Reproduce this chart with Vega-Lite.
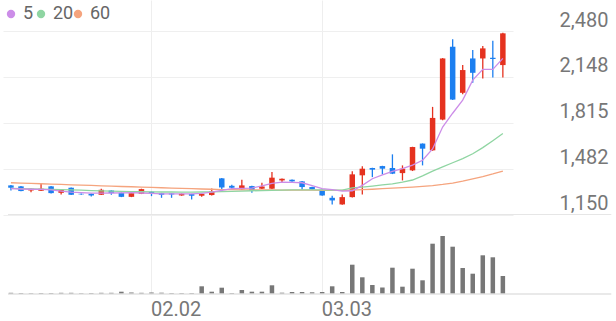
{
  "$schema": "https://vega.github.io/schema/vega-lite/v6.json",
  "width": 510,
  "height": 294,
  "autosize": {"type": "none"},
  "padding": {"left": 3, "top": 0, "right": 103, "bottom": 27},
  "background": "white",
  "config": {
    "view": {"stroke": null},
    "font": "Roboto",
    "legend": {
      "orient": "none", "legendY": 5, "direction": "horizontal",
      "title": null, "padding": 0, "symbolType": "circle", "symbolSize": 70,
      "symbolStrokeWidth": 0, "labelFontSize": 18, "labelColor": "#666666", "labelFont": "Roboto",
      "labelOffset": 3
    }
  },
  "data": {"values": [
    {"i":0,"d":"01.13","o":1361,"h":1363,"l":1324,"c":1344,"v":24000,"ma5":1337,"ma20":1340,"ma60":1380},
    {"i":1,"d":"01.14","o":1354,"h":1356,"l":1318,"c":1320,"v":20000,"ma5":1335,"ma20":1338,"ma60":1378},
    {"i":2,"d":"01.15","o":1324,"h":1338,"l":1312,"c":1337,"v":16000,"ma5":1333,"ma20":1336,"ma60":1375},
    {"i":3,"d":"01.16","o":1322,"h":1373,"l":1320,"c":1337,"v":20000,"ma5":1332,"ma20":1334,"ma60":1373},
    {"i":4,"d":"01.19","o":1354,"h":1356,"l":1303,"c":1305,"v":20000,"ma5":1328,"ma20":1332,"ma60":1370},
    {"i":5,"d":"01.20","o":1307,"h":1331,"l":1295,"c":1329,"v":24000,"ma5":1320,"ma20":1330,"ma60":1368},
    {"i":6,"d":"01.21","o":1344,"h":1346,"l":1291,"c":1293,"v":24000,"ma5":1312,"ma20":1328,"ma60":1365},
    {"i":7,"d":"01.22","o":1300,"h":1302,"l":1293,"c":1296,"v":16000,"ma5":1308,"ma20":1326,"ma60":1363},
    {"i":8,"d":"01.23","o":1300,"h":1302,"l":1281,"c":1288,"v":20000,"ma5":1305,"ma20":1323,"ma60":1361},
    {"i":9,"d":"01.26","o":1293,"h":1337,"l":1291,"c":1329,"v":24000,"ma5":1305,"ma20":1321,"ma60":1358},
    {"i":10,"d":"01.27","o":1324,"h":1326,"l":1293,"c":1305,"v":24000,"ma5":1306,"ma20":1319,"ma60":1356},
    {"i":11,"d":"01.28","o":1307,"h":1309,"l":1276,"c":1278,"v":46000,"ma5":1307,"ma20":1317,"ma60":1353},
    {"i":12,"d":"01.29","o":1278,"h":1320,"l":1276,"c":1305,"v":30000,"ma5":1308,"ma20":1316,"ma60":1351},
    {"i":13,"d":"01.30","o":1300,"h":1337,"l":1298,"c":1334,"v":24000,"ma5":1306,"ma20":1315,"ma60":1348},
    {"i":14,"d":"02.02","o":1315,"h":1317,"l":1283,"c":1305,"v":30000,"ma5":1303,"ma20":1314,"ma60":1346},
    {"i":15,"d":"02.03","o":1305,"h":1307,"l":1271,"c":1293,"v":26000,"ma5":1300,"ma20":1313,"ma60":1344},
    {"i":16,"d":"02.04","o":1303,"h":1305,"l":1271,"c":1295,"v":20000,"ma5":1300,"ma20":1313,"ma60":1341},
    {"i":17,"d":"02.05","o":1288,"h":1302,"l":1286,"c":1300,"v":20000,"ma5":1299,"ma20":1312,"ma60":1339},
    {"i":18,"d":"02.06","o":1298,"h":1300,"l":1259,"c":1286,"v":20000,"ma5":1300,"ma20":1312,"ma60":1337},
    {"i":19,"d":"02.09","o":1286,"h":1302,"l":1278,"c":1300,"v":154000,"ma5":1303,"ma20":1313,"ma60":1335},
    {"i":20,"d":"02.10","o":1291,"h":1339,"l":1288,"c":1317,"v":46000,"ma5":1312,"ma20":1314,"ma60":1333},
    {"i":21,"d":"02.11","o":1412,"h":1414,"l":1320,"c":1346,"v":126000,"ma5":1325,"ma20":1316,"ma60":1331},
    {"i":22,"d":"02.12","o":1358,"h":1366,"l":1332,"c":1344,"v":20000,"ma5":1337,"ma20":1318,"ma60":1330},
    {"i":23,"d":"02.13","o":1332,"h":1402,"l":1329,"c":1361,"v":80000,"ma5":1340,"ma20":1320,"ma60":1329},
    {"i":24,"d":"02.19","o":1356,"h":1358,"l":1307,"c":1324,"v":46000,"ma5":1341,"ma20":1322,"ma60":1329},
    {"i":25,"d":"02.20","o":1337,"h":1380,"l":1334,"c":1353,"v":46000,"ma5":1358,"ma20":1323,"ma60":1328},
    {"i":26,"d":"02.23","o":1337,"h":1458,"l":1334,"c":1417,"v":174000,"ma5":1375,"ma20":1325,"ma60":1328},
    {"i":27,"d":"02.24","o":1397,"h":1411,"l":1385,"c":1409,"v":26000,"ma5":1385,"ma20":1327,"ma60":1327},
    {"i":28,"d":"02.25","o":1402,"h":1404,"l":1388,"c":1390,"v":40000,"ma5":1383,"ma20":1328,"ma60":1327},
    {"i":29,"d":"02.26","o":1390,"h":1392,"l":1329,"c":1349,"v":40000,"ma5":1380,"ma20":1329,"ma60":1326},
    {"i":30,"d":"02.27","o":1349,"h":1351,"l":1330,"c":1332,"v":34000,"ma5":1360,"ma20":1329,"ma60":1326},
    {"i":31,"d":"03.03","o":1329,"h":1331,"l":1286,"c":1288,"v":40000,"ma5":1338,"ma20":1328,"ma60":1325},
    {"i":32,"d":"03.04","o":1271,"h":1286,"l":1223,"c":1252,"v":154000,"ma5":1330,"ma20":1327,"ma60":1325},
    {"i":33,"d":"03.05","o":1223,"h":1295,"l":1220,"c":1276,"v":40000,"ma5":1319,"ma20":1327,"ma60":1325},
    {"i":34,"d":"03.06","o":1276,"h":1463,"l":1274,"c":1441,"v":586000,"ma5":1322,"ma20":1343,"ma60":1327},
    {"i":35,"d":"03.09","o":1434,"h":1499,"l":1295,"c":1482,"v":334000,"ma5":1361,"ma20":1349,"ma60":1330},
    {"i":36,"d":"03.10","o":1487,"h":1489,"l":1421,"c":1475,"v":180000,"ma5":1409,"ma20":1356,"ma60":1333},
    {"i":37,"d":"03.11","o":1501,"h":1503,"l":1441,"c":1482,"v":130000,"ma5":1437,"ma20":1364,"ma60":1337},
    {"i":38,"d":"03.12","o":1487,"h":1586,"l":1443,"c":1446,"v":526000,"ma5":1462,"ma20":1372,"ma60":1341},
    {"i":39,"d":"03.13","o":1450,"h":1506,"l":1397,"c":1482,"v":146000,"ma5":1482,"ma20":1385,"ma60":1345},
    {"i":40,"d":"03.16","o":1470,"h":1641,"l":1465,"c":1639,"v":506000,"ma5":1508,"ma20":1400,"ma60":1349},
    {"i":41,"d":"03.17","o":1664,"h":1665,"l":1506,"c":1627,"v":274000,"ma5":1543,"ma20":1430,"ma60":1354},
    {"i":42,"d":"03.18","o":1615,"h":1930,"l":1612,"c":1850,"v":1006000,"ma5":1625,"ma20":1465,"ma60":1360},
    {"i":43,"d":"03.19","o":1838,"h":2284,"l":1833,"c":2281,"v":1160000,"ma5":1784,"ma20":1495,"ma60":1368},
    {"i":44,"d":"03.20","o":2366,"h":2420,"l":1980,"c":1983,"v":946000,"ma5":1884,"ma20":1525,"ma60":1378},
    {"i":45,"d":"03.23","o":2032,"h":2233,"l":2022,"c":2197,"v":520000,"ma5":1979,"ma20":1555,"ma60":1392},
    {"i":46,"d":"03.24","o":2281,"h":2342,"l":2105,"c":2177,"v":406000,"ma5":2124,"ma20":1590,"ma60":1408},
    {"i":47,"d":"03.25","o":2281,"h":2371,"l":2136,"c":2354,"v":774000,"ma5":2202,"ma20":1635,"ma60":1425},
    {"i":48,"d":"03.26","o":2286,"h":2410,"l":2143,"c":2277,"v":734000,"ma5":2202,"ma20":1685,"ma60":1444},
    {"i":49,"d":"03.27","o":2233,"h":2468,"l":2143,"c":2463,"v":360000,"ma5":2282,"ma20":1737,"ma60":1465}
  ]},
  "encoding": {
    "x": {
      "field": "i", "type": "quantitative",
      "scale": {"domain": [-0.293, 49.512], "nice": false, "zero": false},
      "axis": {
        "values": [14, 31],
        "labelExpr": "datum.value == 14 ? '02.02' : '03.03'",
        "title": null, "grid": true, "gridColor": "#eeeeee", "gridWidth": 1,
        "ticks": false, "domain": false,
        "labelAlign": "left", "labelBaseline": "top", "labelPadding": 5, "labelOffset": -1,
        "labelFontSize": 20, "labelColor": "#777777", "labelFont": "Roboto"
      }
    }
  },
  "layer": [
    {
      "resolve": {"scale": {"color": "independent"}},
      "layer": [
        {
          "data": {"values": [{"p": 1150, "xa": -0.293, "xb": 59.8}]},
          "mark": {"type": "rule", "color": "#e6e6e6", "strokeWidth": 1},
          "encoding": {
            "x": {"field": "xa", "type": "quantitative",
                  "scale": {"domain": [-0.293, 49.512], "nice": false, "zero": false},
                  "axis": {
                    "values": [14, 31],
                    "labelExpr": "datum.value == 14 ? '02.02' : '03.03'",
                    "title": null, "grid": true, "gridColor": "#eeeeee", "gridWidth": 1,
                    "ticks": false, "domain": false,
                    "labelAlign": "left", "labelBaseline": "top", "labelPadding": 5, "labelOffset": -1,
                    "labelFontSize": 20, "labelColor": "#777777", "labelFont": "Roboto"
                  }},
            "x2": {"field": "xb"},
            "y": {"field": "p", "type": "quantitative",
                  "scale": {"domain": [573.8, 2704.7], "nice": false, "zero": false},
                  "axis": {
                    "orient": "right", "values": [1150, 1482, 1815, 2148, 2480], "format": ",d",
                    "title": null, "grid": true, "gridColor": "#efefef", "gridWidth": 1,
                    "ticks": false, "domain": false,
                    "labelAlign": "right", "labelPadding": 95, "labelBaseline": "alphabetic", "labelOffset": -5,
                    "labelFontSize": 20, "labelColor": "#777777", "labelFont": "Roboto"
                  }}
          }
        },
        {
          "mark": {"type": "rule", "strokeWidth": 1.3},
          "encoding": {
            "y": {"field": "l", "type": "quantitative",
                  "scale": {"domain": [573.8, 2704.7], "nice": false, "zero": false},
                  "axis": {
                    "orient": "right", "values": [1150, 1482, 1815, 2148, 2480], "format": ",d",
                    "title": null, "grid": true, "gridColor": "#efefef", "gridWidth": 1,
                    "ticks": false, "domain": false,
                    "labelAlign": "right", "labelPadding": 95, "labelBaseline": "alphabetic", "labelOffset": -5,
                    "labelFontSize": 20, "labelColor": "#777777", "labelFont": "Roboto"
                  }},
            "y2": {"field": "h"},
            "color": {"condition": {"test": "datum.c >= datum.o", "value": "#e5321f"}, "value": "#1c7ff0"}
          }
        },
        {
          "mark": {"type": "bar", "width": 5.5},
          "encoding": {
            "y": {"field": "o", "type": "quantitative",
                  "scale": {"domain": [573.8, 2704.7], "nice": false, "zero": false},
                  "axis": {
                    "orient": "right", "values": [1150, 1482, 1815, 2148, 2480], "format": ",d",
                    "title": null, "grid": true, "gridColor": "#efefef", "gridWidth": 1,
                    "ticks": false, "domain": false,
                    "labelAlign": "right", "labelPadding": 95, "labelBaseline": "alphabetic", "labelOffset": -5,
                    "labelFontSize": 20, "labelColor": "#777777", "labelFont": "Roboto"
                  }},
            "y2": {"field": "c"},
            "color": {"condition": {"test": "datum.c >= datum.o", "value": "#e5321f"}, "value": "#1c7ff0"}
          }
        },
        {
          "mark": {"type": "line", "strokeWidth": 1.3},
          "encoding": {
            "y": {"field": "ma60", "type": "quantitative",
                  "scale": {"domain": [573.8, 2704.7], "nice": false, "zero": false},
                  "axis": {
                    "orient": "right", "values": [1150, 1482, 1815, 2148, 2480], "format": ",d",
                    "title": null, "grid": true, "gridColor": "#efefef", "gridWidth": 1,
                    "ticks": false, "domain": false,
                    "labelAlign": "right", "labelPadding": 95, "labelBaseline": "alphabetic", "labelOffset": -5,
                    "labelFontSize": 20, "labelColor": "#777777", "labelFont": "Roboto"
                  }},
            "color": {
              "datum": "60", "type": "nominal",
              "scale": {"domain": ["60"], "range": ["#f5a47e"]},
              "legend": {
                "legendX": 66,
                "encode": {"symbols": {"update": {"fill": {"value": "#f5a47e"}, "stroke": {"value": "transparent"}}}}
              }
            }
          }
        },
        {
          "mark": {"type": "line", "strokeWidth": 1.3},
          "encoding": {
            "y": {"field": "ma20", "type": "quantitative",
                  "scale": {"domain": [573.8, 2704.7], "nice": false, "zero": false},
                  "axis": {
                    "orient": "right", "values": [1150, 1482, 1815, 2148, 2480], "format": ",d",
                    "title": null, "grid": true, "gridColor": "#efefef", "gridWidth": 1,
                    "ticks": false, "domain": false,
                    "labelAlign": "right", "labelPadding": 95, "labelBaseline": "alphabetic", "labelOffset": -5,
                    "labelFontSize": 20, "labelColor": "#777777", "labelFont": "Roboto"
                  }},
            "color": {
              "datum": "20", "type": "nominal",
              "scale": {"domain": ["20"], "range": ["#8fd5a2"]},
              "legend": {
                "legendX": 29,
                "encode": {"symbols": {"update": {"fill": {"value": "#8fd5a2"}, "stroke": {"value": "transparent"}}}}
              }
            }
          }
        },
        {
          "mark": {"type": "line", "strokeWidth": 1.3},
          "encoding": {
            "y": {"field": "ma5", "type": "quantitative",
                  "scale": {"domain": [573.8, 2704.7], "nice": false, "zero": false},
                  "axis": {
                    "orient": "right", "values": [1150, 1482, 1815, 2148, 2480], "format": ",d",
                    "title": null, "grid": true, "gridColor": "#efefef", "gridWidth": 1,
                    "ticks": false, "domain": false,
                    "labelAlign": "right", "labelPadding": 95, "labelBaseline": "alphabetic", "labelOffset": -5,
                    "labelFontSize": 20, "labelColor": "#777777", "labelFont": "Roboto"
                  }},
            "color": {
              "datum": "5", "type": "nominal",
              "scale": {"domain": ["5"], "range": ["#cc8de8"]},
              "legend": {
                "legendX": -1,
                "encode": {"symbols": {"update": {"fill": {"value": "#cc8de8"}, "stroke": {"value": "transparent"}}}}
              }
            }
          }
        }
      ]
    },
    {
      "layer": [
        {
          "mark": {"type": "bar", "width": 4.5, "color": "#777777"},
          "encoding": {
            "y": {"field": "v", "type": "quantitative", "axis": null,
                  "scale": {"domain": [0, 5880000], "nice": false}}
          }
        },
        {
          "data": {"values": [{"vb": 0, "xa": -0.293, "xb": 59.8}]},
          "mark": {"type": "rule", "color": "#e2e2e2", "strokeWidth": 1.5},
          "encoding": {
            "x": {"field": "xa", "type": "quantitative",
                  "scale": {"domain": [-0.293, 49.512], "nice": false, "zero": false},
                  "axis": {
                    "values": [14, 31],
                    "labelExpr": "datum.value == 14 ? '02.02' : '03.03'",
                    "title": null, "grid": true, "gridColor": "#eeeeee", "gridWidth": 1,
                    "ticks": false, "domain": false,
                    "labelAlign": "left", "labelBaseline": "top", "labelPadding": 5, "labelOffset": -1,
                    "labelFontSize": 20, "labelColor": "#777777", "labelFont": "Roboto"
                  }},
            "x2": {"field": "xb"},
            "y": {"field": "vb", "type": "quantitative", "axis": null,
                  "scale": {"domain": [0, 5880000], "nice": false}}
          }
        }
      ]
    }
  ],
  "resolve": {"scale": {"y": "independent"}}
}
